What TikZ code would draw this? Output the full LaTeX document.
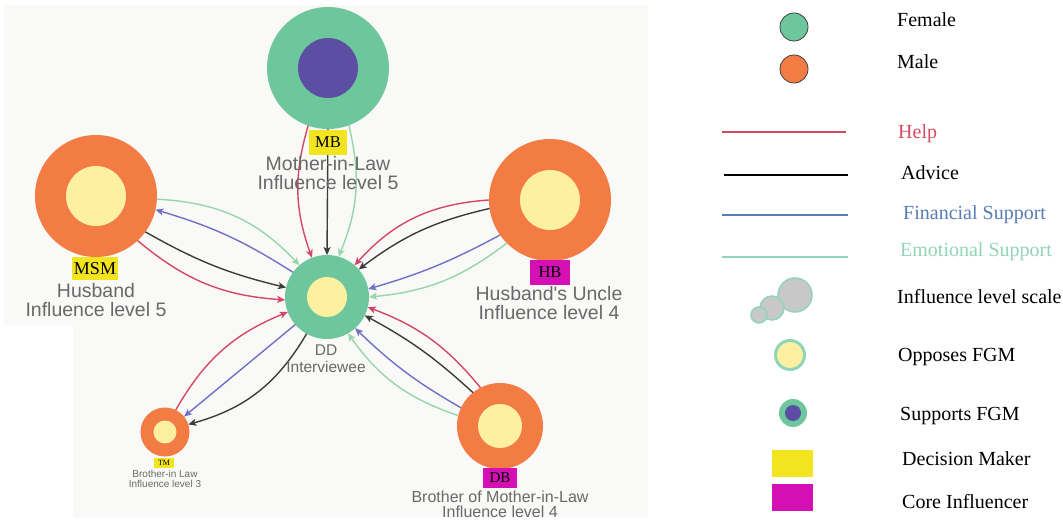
\documentclass[tikz,border=0pt]{standalone}
\usepackage{fontspec}
\setmainfont{Liberation Serif}
\newfontfamily\lblfont{Liberation Sans}
\usetikzlibrary{arrows.meta}
\definecolor{fem}{RGB}{110,198,156}
\definecolor{mal}{RGB}{242,124,68}
\definecolor{opp}{RGB}{253,240,160}
\definecolor{sup}{RGB}{92,78,164}
\definecolor{dmk}{RGB}{242,228,30}
\definecolor{cin}{RGB}{212,16,180}
\definecolor{bgg}{RGB}{249,249,247}
\definecolor{lblgray}{RGB}{105,105,105}
\definecolor{chelp}{RGB}{212,72,102}
\definecolor{cadv}{RGB}{60,60,60}
\definecolor{cfin}{RGB}{112,112,196}
\definecolor{cemo}{RGB}{150,214,168}
\definecolor{lhelp}{RGB}{214,74,96}
\definecolor{lfin}{RGB}{88,124,180}
\definecolor{lemo}{RGB}{146,212,184}
\definecolor{scal}{RGB}{200,200,200}
\begin{document}
\begin{tikzpicture}[x=1pt,y=1pt,
  person/.style={circle,inner sep=0pt,outer sep=0pt,minimum size=#1},
  conn/.style={line width=1.4pt,-{Stealth[length=8pt,width=7pt,inset=2pt]}},
  tagbox/.style={inner sep=0pt,outer sep=0pt,text=black},
  lbl/.style={align=center,anchor=north,inner sep=0pt,text=lblgray},
  legtxt/.style={anchor=base west,inner sep=0pt,font=\fontsize{20}{20}\selectfont},
  legline/.style={line width=1.6pt}]
\useasboundingbox (0,0) rectangle (1063,-521);
\fill[white] (0,0) rectangle (1063,-521);
\fill[bgg] (4,-5) -- (648,-5) -- (648,-517) -- (73,-517) -- (73,-325) -- (4,-325) -- cycle;

% persons
\node[person=122pt, fill=fem] (MB) at (328,-68) {};
\fill[sup] (MB.center) circle (30);
\node[person=122pt, fill=mal] (MSM) at (96,-196) {};
\fill[opp] (MSM.center) circle (30);
\node[person=122pt, fill=mal] (HB) at (550,-200) {};
\fill[opp] (HB.center) circle (30);
\node[person=84pt, fill=fem] (DD) at (327,-297) {};
\fill[opp] (DD.center) circle (20);
\node[person=49pt, fill=mal] (TM) at (165,-432) {};
\fill[opp] (TM.center) circle (11.5);
\node[person=86pt, fill=mal] (DB) at (500,-426) {};
\fill[opp] (DB.center) circle (22);

% connectors MB
\draw[conn,chelp] (MB.251) to[bend right=18] (DD.111);
\draw[conn,cadv] (MB.270) -- (DD.90);
\draw[conn,cemo] (MB.290) to[bend left=18] (DD.74);
% MSM
\draw[conn,cemo] (MSM.357) to[bend left=22] (DD.131);
\draw[conn,cfin] (DD.144) to[bend right=8] (MSM.347);
\draw[conn,cadv] (MSM.324) to[bend right=8] (DD.167);
\draw[conn,chelp] (MSM.313) to[bend right=18] (DD.184);
% HB
\draw[conn,chelp] (HB.180) to[bend right=22] (DD.49);
\draw[conn,cadv] (HB.188) to[bend right=12] (DD.41);
\draw[conn,cfin] (HB.215) to[bend left=6] (DD.11);
\draw[conn,cemo] (HB.225) to[bend left=16] (DD.0);
% DB
\draw[conn,chelp] (DB.117) to[bend right=15] (DD.346);
\draw[conn,cadv] (DB.129) to[bend right=7] (DD.334);
\draw[conn,cfin] (DB.155) to[bend left=7] (DD.312);
\draw[conn,cemo] (DB.166) to[bend left=18] (DD.300);
% TM
\draw[conn,chelp] (TM.64) to[bend left=19] (DD.201);
\draw[conn,cfin] (DD.221) -- (TM.39);
\draw[conn,cadv] (DD.241) to[bend left=22] (TM.18);

% tags
\node[tagbox,fill=dmk,minimum width=38pt,minimum height=25pt,font=\fontsize{16.5}{16.5}\selectfont] (MBtag) at (328,-142.5) {MB};
\node[tagbox,fill=dmk,minimum width=46pt,minimum height=23pt,font=\fontsize{18}{18}\selectfont] (MSMtag) at (95,-268.5) {MSM};
\node[tagbox,fill=cin,minimum width=40pt,minimum height=25pt,font=\fontsize{16.5}{16.5}\selectfont] (HBtag) at (550,-272.5) {HB};
\node[tagbox,fill=cin,minimum width=34pt,minimum height=20pt,font=\fontsize{15}{15}\selectfont] (DBtag) at (500,-478) {DB};
\node[tagbox,fill=dmk,minimum width=20pt,minimum height=10pt,font=\fontsize{8}{8}\selectfont] (TMtag) at (164,-463) {TM};

% labels
\node[lbl,font=\lblfont\fontsize{19.5}{19.5}\selectfont] (MBlbl) at (328,-156) {Mother-in-Law\\Influence level 5};
\node[lbl,font=\lblfont\fontsize{19.5}{19.5}\selectfont] (MSMlbl) at (96,-283) {Husband\\Influence level 5};
\node[lbl,font=\lblfont\fontsize{19.5}{19.5}\selectfont] (HBlbl) at (549,-286) {Husband's Uncle\\Influence level 4};
\node[lbl,font=\lblfont\fontsize{15.5}{17}\selectfont] (DDlbl) at (326,-344.7) {DD\\Interviewee};
\node[lbl,font=\lblfont\fontsize{10}{10.5}\selectfont] (TMlbl) at (165,-469.7) {Brother-in Law\\Influence level 3};
\node[lbl,font=\lblfont\fontsize{16}{15.5}\selectfont] (DBlbl) at (500,-490.3) {Brother of Mother-in-Law\\Influence level 4};

% legend
\node[circle,fill=fem,draw=black!75,line width=0.8pt,minimum size=28pt,inner sep=0pt] (legF) at (794,-27) {};
\node[circle,fill=mal,draw=black!75,line width=0.8pt,minimum size=28pt,inner sep=0pt] (legM) at (794,-69) {};
\node[legtxt] (tF) at (897,-27) {Female};
\node[legtxt] (tM) at (897,-69) {Male};

\draw[legline,lhelp] (722,-132) -- (846,-132);
\draw[legline,black] (724,-175) -- (848,-175);
\draw[legline,lfin] (722,-215) -- (848,-215);
\draw[legline,lemo] (722,-257) -- (848,-257);
\node[legtxt,text=lhelp] (tHelp) at (898,-139) {Help};
\node[legtxt] (tAdv) at (901,-180) {Advice};
\node[legtxt,text=lfin] (tFin) at (903,-220) {Financial Support};
\node[legtxt,text=lemo] (tEmo) at (900,-257) {Emotional Support};

\filldraw[fill=scal,draw=lemo,line width=1.5pt] (795,-295) circle (17);
\filldraw[fill=scal,draw=lemo,line width=1.5pt] (772,-308) circle (12);
\filldraw[fill=scal,draw=lemo,line width=1.5pt] (759,-315) circle (8);
\node[legtxt] (tScale) at (897,-304) {Influence level scale};

\filldraw[fill=opp,draw=lemo,line width=3pt] (790,-355) circle (14.5);
\node[legtxt] (tOpp) at (898,-362) {Opposes FGM};

\fill[fem] (793,-413) circle (14);
\fill[sup] (793,-413) circle (8);
\node[legtxt] (tSup) at (900,-420) {Supports FGM};

\fill[dmk] (772,-450) rectangle (813,-477);
\node[legtxt] (tDM) at (902,-465) {Decision Maker};
\fill[cin] (772,-484) rectangle (813,-511);
\node[legtxt] (tCI) at (902,-508) {Core Influencer};
\end{tikzpicture}
\end{document}
